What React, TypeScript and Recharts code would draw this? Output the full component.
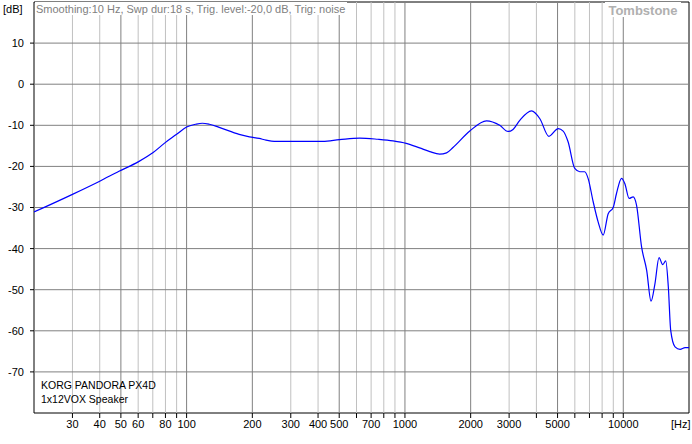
import React from 'react';
import { LineChart, Line, XAxis, YAxis, ReferenceLine, ReferenceArea } from 'recharts';

const freqs = [20, 30, 40, 49, 60, 70, 79, 90, 100, 110, 118, 127, 141, 174, 194, 215, 231, 252, 420, 501, 620, 752, 882, 1013, 1167, 1300, 1442, 1551, 1660, 1981, 2363, 2718, 2966, 3127, 3357, 3800, 4150, 4563, 5034, 5305, 5587, 5995, 6322, 6660, 6900, 7280, 7670, 8090, 8530, 8990, 9310, 9820, 10170, 10640, 11100, 11500, 12130, 12800, 13400, 13970, 14580, 15160, 15650, 16080, 16490, 17260, 18200, 19190, 20000];
const levels = [-31.1, -26.8, -23.6, -21.2, -18.9, -16.7, -14.4, -12.2, -10.4, -9.75, -9.5, -9.75, -10.5, -12.2, -12.8, -13.2, -13.6, -13.9, -13.9, -13.5, -13.1, -13.4, -13.8, -14.4, -15.5, -16.4, -17.0, -16.7, -15.4, -11.4, -8.9, -10.0, -11.5, -11.0, -8.8, -6.5, -8.4, -12.7, -10.8, -11.4, -14.0, -20.5, -21.3, -21.3, -22.9, -28.6, -33.5, -36.7, -31.5, -30.0, -26.6, -22.9, -24.2, -27.8, -27.4, -29.4, -39.6, -45.3, -52.8, -48.5, -42.2, -43.9, -43.0, -49.3, -59.9, -63.9, -64.5, -64.1, -64.1];

const majorGridX = [50, 100, 200, 500, 1000, 2000, 5000, 10000];
const minorGridX = [30, 40, 60, 70, 80, 90, 300, 400, 600, 700, 800, 900, 3000, 4000, 6000, 7000, 8000, 9000];
const xTicks = [30, 40, 50, 60, 70, 80, 90, 100, 200, 300, 400, 500, 600, 700, 800, 900, 1000, 2000, 3000, 4000, 5000, 6000, 7000, 8000, 9000, 10000];
const xTickLabels = [30, 40, 50, 60, 80, 100, 200, 300, 400, 500, 700, 1000, 2000, 3000, 5000, 10000];
const yTicks = [-70, -60, -50, -40, -30, -20, -10, 0, 10];
const yGrid = [-70, -60, -50, -40, -30, -20, -10, 0, 10];

const titleText = 'Smoothing:10 Hz, Swp dur:18 s, Trig. level:-20,0 dB, Trig: noise';
const brandText = 'Tombstone';
const legendLines = ['KORG PANDORA PX4D', '1x12VOX Speaker'];

const data = freqs.map((f, i) => ({ f, db: levels[i] }));

const FONT = 'Arial, "Liberation Sans", sans-serif';

export default function App() {
  return (
    <div style={{ position: 'absolute', left: 0, top: 0, width: 692, height: 444, background: '#fff', fontFamily: FONT }}>
      <LineChart width={692} height={444} data={data} margin={{ top: 2, right: 3, bottom: 0, left: 0 }}>
        {minorGridX.map((x) => (
          <ReferenceLine key={'mi' + x} x={x} stroke="#c0c0c0" strokeWidth={1} />
        ))}
        {majorGridX.map((x) => (
          <ReferenceLine key={'ma' + x} x={x} stroke="#808080" strokeWidth={1} />
        ))}
        {yGrid.map((y) => (
          <ReferenceLine key={'y' + y} y={y} stroke="#808080" strokeWidth={1} />
        ))}
        <XAxis
          dataKey="f"
          type="number"
          scale="log"
          domain={[20, 20000]}
          allowDataOverflow
          ticks={xTicks}
          interval={0}
          height={31}
          axisLine={false}
          tickLine={{ stroke: '#000' }}
          tickSize={5}
          tickMargin={2}
          tick={{ fontSize: 11, fill: '#000', fontFamily: FONT }}
          tickFormatter={(v: number) => (xTickLabels.includes(v) ? String(v) : '')}
        />
        <YAxis
          type="number"
          domain={[-80, 20]}
          ticks={yTicks}
          interval={0}
          width={34}
          axisLine={false}
          tickLine={{ stroke: '#000' }}
          tickSize={4}
          tickMargin={6}
          tick={{ fontSize: 11, fill: '#000', fontFamily: FONT }}
        />
        <Line
          type="monotone"
          dataKey="db"
          stroke="#0000ff"
          strokeWidth={1.2}
          dot={false}
          isAnimationActive={false}
        />
        <ReferenceArea x1={20} x2={20000} y1={-80} y2={20} fill="none" stroke="#000" strokeWidth={1} />
      </LineChart>
      <div style={{ position: 'absolute', left: 3, top: 3, fontSize: 11, lineHeight: '13px', color: '#000' }}>[dB]</div>
      <div style={{ position: 'absolute', left: 35, top: 2, paddingTop: 1, height: 12, paddingLeft: 1, paddingRight: 2, fontSize: 11, lineHeight: '13px', color: '#808080', background: '#fff', whiteSpace: 'nowrap' }}>{titleText}</div>
      <div style={{ position: 'absolute', left: 605, top: 2, paddingTop: 1, height: 14, width: 76, textAlign: 'center', fontSize: 13, fontWeight: 'bold', lineHeight: '15px', color: '#b0b0b0', background: '#fff', whiteSpace: 'nowrap' }}>{brandText}</div>
      <div style={{ position: 'absolute', left: 41, top: 378, fontSize: 10.5, lineHeight: '14px', color: '#000', whiteSpace: 'nowrap' }}>
        {legendLines.map((l) => (
          <div key={l}>{l}</div>
        ))}
      </div>
      <div style={{ position: 'absolute', left: 671, top: 418, fontSize: 11, lineHeight: '13px', color: '#000' }}>[Hz]</div>
    </div>
  );
}
